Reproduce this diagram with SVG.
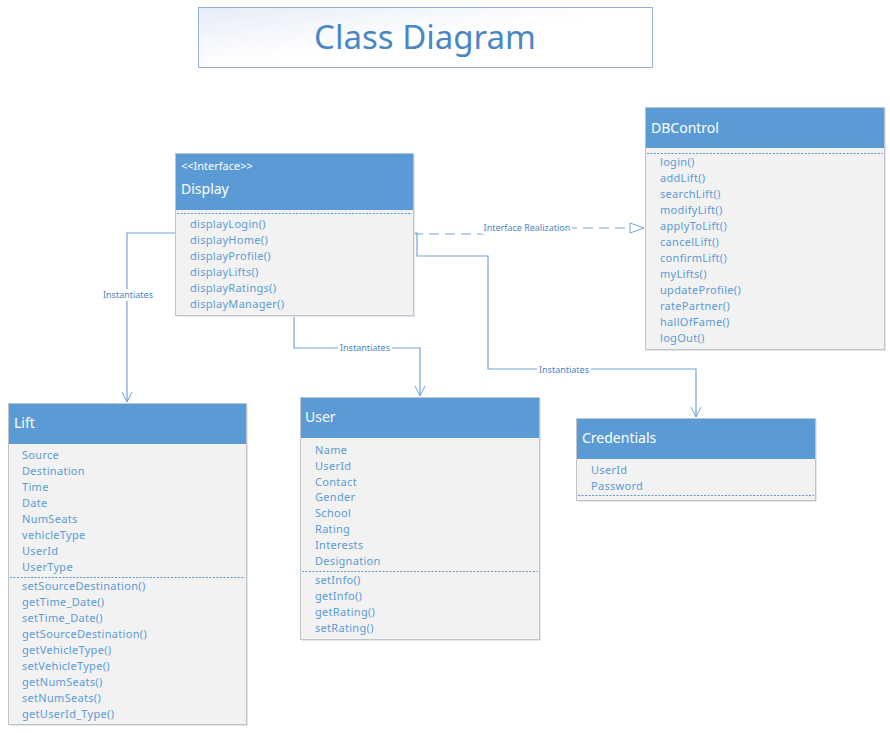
<svg xmlns="http://www.w3.org/2000/svg" width="890" height="733" viewBox="0 0 890 733">
<defs>
<linearGradient id="tg" x1="0" y1="0" x2="1" y2="1">
<stop offset="0" stop-color="#E6ECF7"/>
<stop offset="0.5" stop-color="#FFFFFF"/>
<stop offset="1" stop-color="#FFFFFF"/>
</linearGradient>
<marker id="open" viewBox="0 0 12 12" refX="11" refY="6" markerWidth="12" markerHeight="12" markerUnits="userSpaceOnUse" orient="auto">
<path d="M1,1 L11,6 L1,11" fill="none" stroke="#6FA6DC" stroke-width="1"/>
</marker>
<marker id="tri" viewBox="0 0 16 12" refX="15" refY="6" markerWidth="16" markerHeight="12" markerUnits="userSpaceOnUse" orient="auto">
<path d="M1,1 L15,6 L1,11 Z" fill="#FFFFFF" stroke="#6FA6DC" stroke-width="1"/>
</marker>
</defs>
<style>
.box{fill:#F2F2F2;stroke:#BFC4CC;stroke-width:1}
.shadow{fill:#E3E6EA}
.hdr{fill:#5B9BD5}
.ht{font-family:"Noto Sans","DejaVu Sans",sans-serif;font-size:14px;fill:#FFFFFF}
.st{font-family:"Noto Sans","DejaVu Sans",sans-serif;font-size:11px;fill:#FFFFFF}
.it{font-family:"Noto Sans","DejaVu Sans",sans-serif;font-size:11px;fill:#5B9BD5;letter-spacing:0.3px}
.sep{stroke:#5B9BD5;stroke-width:1;stroke-dasharray:2,1.5;fill:none}
.con{fill:none;stroke:#6FA6DC;stroke-width:1.2}
.dash{stroke-dasharray:10,6}
.lbl{font-family:"Noto Sans","DejaVu Sans",sans-serif;font-size:9px;fill:#4A86C5}
.lbg{fill:#FFFFFF}
</style>

<g id="title">
<rect x="198.5" y="7.5" width="454" height="60" fill="url(#tg)" stroke="#95B3D7" stroke-width="1"/>
<text x="425" y="49" text-anchor="middle" font-family="'Noto Sans','DejaVu Sans',sans-serif" font-size="33" fill="#4A86C5">Class Diagram</text>
</g>

<g id="connectors">
<path class="con" d="M175,233 H127 V402" marker-end="url(#open)"/>
<rect class="lbg" x="101" y="289" width="54" height="12"/>
<text class="lbl" x="128" y="298" text-anchor="middle">Instantiates</text>

<path class="con" d="M294,315 V348 H420 V396" marker-end="url(#open)"/>
<rect class="lbg" x="338" y="342" width="54" height="12"/>
<text class="lbl" x="365" y="351" text-anchor="middle">Instantiates</text>

<path class="con" d="M413,233 H417 V256 H488 V369 H696 V417" marker-end="url(#open)"/>
<rect class="lbg" x="537" y="364" width="54" height="12"/>
<text class="lbl" x="564" y="373" text-anchor="middle">Instantiates</text>

<path class="con dash" d="M413,234 H484 V228 H644" marker-end="url(#tri)"/>
<rect class="lbg" x="482" y="222" width="90" height="12"/>
<text class="lbl" x="527" y="231" text-anchor="middle">Interface Realization</text>
</g>

<g id="Display">
<rect class="shadow" x="177" y="155" width="238" height="162"/>
<rect class="box" x="175.5" y="153.5" width="238" height="162"/>
<rect class="hdr" x="176" y="154" width="237" height="56"/>
<text class="st" x="181" y="170">&lt;&lt;Interface&gt;&gt;</text>
<text class="ht" x="181" y="194">Display</text>
<line class="sep" x1="177" y1="213.5" x2="412" y2="213.5"/>
<text class="it" x="190" y="228">displayLogin()</text>
<text class="it" x="190" y="244">displayHome()</text>
<text class="it" x="190" y="260">displayProfile()</text>
<text class="it" x="190" y="276">displayLifts()</text>
<text class="it" x="190" y="292">displayRatings()</text>
<text class="it" x="190" y="308">displayManager()</text>
</g>

<g id="DBControl">
<rect class="shadow" x="647" y="109" width="239" height="242"/>
<rect class="box" x="645.5" y="107.5" width="239" height="242"/>
<rect class="hdr" x="646" y="108" width="238" height="40"/>
<text class="ht" x="651" y="133">DBControl</text>
<line class="sep" x1="647" y1="153.5" x2="883" y2="153.5"/>
<text class="it" x="660" y="166">login()</text>
<text class="it" x="660" y="182">addLift()</text>
<text class="it" x="660" y="198">searchLift()</text>
<text class="it" x="660" y="214">modifyLift()</text>
<text class="it" x="660" y="230">applyToLift()</text>
<text class="it" x="660" y="246">cancelLift()</text>
<text class="it" x="660" y="262">confirmLift()</text>
<text class="it" x="660" y="278">myLifts()</text>
<text class="it" x="660" y="294">updateProfile()</text>
<text class="it" x="660" y="310">ratePartner()</text>
<text class="it" x="660" y="326">hallOfFame()</text>
<text class="it" x="660" y="342">logOut()</text>
</g>

<g id="Lift">
<rect class="shadow" x="10" y="405" width="238" height="321"/>
<rect class="box" x="8.5" y="403.5" width="238" height="321"/>
<rect class="hdr" x="9" y="404" width="237" height="40"/>
<text class="ht" x="14" y="428">Lift</text>
<text class="it" x="22" y="459">Source</text>
<text class="it" x="22" y="475">Destination</text>
<text class="it" x="22" y="491">Time</text>
<text class="it" x="22" y="507">Date</text>
<text class="it" x="22" y="523">NumSeats</text>
<text class="it" x="22" y="539">vehicleType</text>
<text class="it" x="22" y="555">UserId</text>
<text class="it" x="22" y="571">UserType</text>
<line class="sep" x1="10" y1="577.5" x2="245" y2="577.5"/>
<text class="it" x="22" y="590">setSourceDestination()</text>
<text class="it" x="22" y="606">getTime_Date()</text>
<text class="it" x="22" y="622">setTime_Date()</text>
<text class="it" x="22" y="638">getSourceDestination()</text>
<text class="it" x="22" y="654">getVehicleType()</text>
<text class="it" x="22" y="670">setVehicleType()</text>
<text class="it" x="22" y="686">getNumSeats()</text>
<text class="it" x="22" y="702">setNumSeats()</text>
<text class="it" x="22" y="718">getUserId_Type()</text>
</g>

<g id="User">
<rect class="shadow" x="302" y="399" width="239" height="242"/>
<rect class="box" x="300.5" y="397.5" width="239" height="242"/>
<rect class="hdr" x="301" y="398" width="238" height="40"/>
<text class="ht" x="305" y="422">User</text>
<text class="it" x="315" y="454">Name</text>
<text class="it" x="315" y="470">UserId</text>
<text class="it" x="315" y="486">Contact</text>
<text class="it" x="315" y="501">Gender</text>
<text class="it" x="315" y="517">School</text>
<text class="it" x="315" y="533">Rating</text>
<text class="it" x="315" y="549">Interests</text>
<text class="it" x="315" y="565">Designation</text>
<line class="sep" x1="302" y1="571.5" x2="538" y2="571.5"/>
<text class="it" x="315" y="584">setInfo()</text>
<text class="it" x="315" y="600">getInfo()</text>
<text class="it" x="315" y="616">getRating()</text>
<text class="it" x="315" y="632">setRating()</text>
</g>

<g id="Credentials">
<rect class="shadow" x="578" y="420" width="239" height="82"/>
<rect class="box" x="576.5" y="418.5" width="239" height="82"/>
<rect class="hdr" x="577" y="419" width="238" height="40"/>
<text class="ht" x="582" y="443">Credentials</text>
<text class="it" x="591" y="474">UserId</text>
<text class="it" x="591" y="490">Password</text>
<line class="sep" x1="578" y1="495.5" x2="814" y2="495.5"/>
</g>
</svg>
